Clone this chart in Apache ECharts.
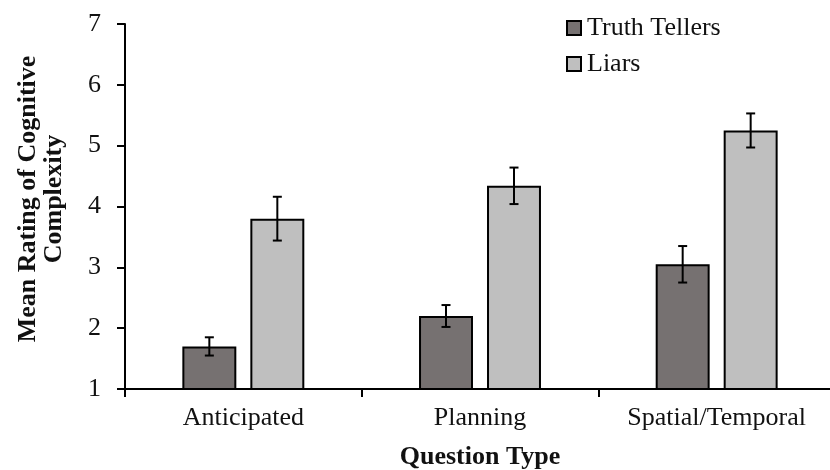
<!DOCTYPE html>
<html>
<head>
<meta charset="utf-8">
<script src="https://cdn.jsdelivr.net/npm/echarts@6/dist/echarts.min.js"></script>
<style>html,body{margin:0;padding:0;background:#fff;}#c{width:830px;height:470px;}</style>
</head>
<body>
<div id="c"></div>
<script>
var categories = ['Anticipated', 'Planning', 'Spatial/Temporal'];
var seriesNames = ['Truth Tellers', 'Liars'];
var truthMeans = [1.7, 2.2, 3.05];
var truthErr = [0.15, 0.18, 0.3];
var liarMeans = [3.8, 4.34, 5.25];
var liarErr = [0.36, 0.3, 0.28];
var yTicks = [1, 2, 3, 4, 5, 6, 7];

var FONT = 'Liberation Serif';
var BAR_FRAC = 0.228, GAP_FRAC = 0.26;

function errSeries(means, errs, side) {
  var data = means.map(function (m, i) { return [i, m, m - errs[i], m + errs[i]]; });
  return {
    type: 'custom',
    z: 10,
    silent: true,
    data: data,
    encode: { x: 0, y: [2, 3] },
    renderItem: function (params, api) {
      var idx = api.value(0);
      var band = api.size([1, 0])[0];
      var off = band * (BAR_FRAC + BAR_FRAC * GAP_FRAC) / 2 * side;
      var lo = api.coord([idx, api.value(2)]);
      var hi = api.coord([idx, api.value(3)]);
      var x = lo[0] + off;
      var cap = 4.5;
      var st = { stroke: '#000', lineWidth: 2 };
      return {
        type: 'group',
        children: [
          { type: 'line', shape: { x1: x, y1: lo[1], x2: x, y2: hi[1] }, style: st },
          { type: 'line', shape: { x1: x - cap, y1: lo[1], x2: x + cap, y2: lo[1] }, style: st },
          { type: 'line', shape: { x1: x - cap, y1: hi[1], x2: x + cap, y2: hi[1] }, style: st }
        ]
      };
    }
  };
}

var chart = echarts.init(document.getElementById('c'));
chart.setOption({
  animation: false,
  backgroundColor: '#fff',
  grid: { left: 125, right: -5, top: 24, bottom: 81, containLabel: false, outerBoundsMode: 'none' },
  legend: {
    orient: 'vertical',
    left: 566,
    top: 15,
    padding: 0,
    itemWidth: 14,
    itemHeight: 14,
    itemGap: 10,
    icon: 'rect',
    data: seriesNames,
    textStyle: { fontFamily: FONT, fontSize: 26, color: '#111', lineHeight: 26, padding: [0, 0, 0, 1] }
  },
  graphic: [{
    type: 'text',
    x: 41,
    y: 199,
    rotation: Math.PI / 2,
    style: {
      text: 'Mean Rating of Cognitive\nComplexity',
      font: 'bold 26px "Liberation Serif"',
      fill: '#111',
      align: 'center',
      verticalAlign: 'middle',
      lineHeight: 26
    }
  }],
  xAxis: {
    type: 'category',
    data: categories,
    name: 'Question Type',
    nameLocation: 'middle',
    nameGap: 55,
    nameTextStyle: { fontFamily: FONT, fontSize: 26, fontWeight: 'bold', color: '#111' },
    axisLine: { lineStyle: { color: '#000', width: 2 } },
    axisTick: { show: true, length: 8, lineStyle: { color: '#000', width: 2 } },
    axisLabel: { fontFamily: FONT, fontSize: 26, color: '#111', margin: 16 },
    splitLine: { show: false }
  },
  yAxis: {
    type: 'value',
    min: 1,
    max: 7,
    interval: 1,
    axisLine: { show: true, lineStyle: { color: '#000', width: 2 } },
    axisTick: { show: true, length: 8, lineStyle: { color: '#000', width: 2 } },
    axisLabel: { fontFamily: FONT, fontSize: 26, color: '#111', margin: 24,
      formatter: function (v) { return yTicks.indexOf(v) >= 0 ? String(v) : ''; } },
    splitLine: { show: false }
  },
  series: [
    {
      name: seriesNames[0],
      type: 'bar',
      data: truthMeans,
      barWidth: (BAR_FRAC * 100) + '%',
      barGap: (GAP_FRAC * 100) + '%',
      itemStyle: { color: '#767171', borderColor: '#000', borderWidth: 2 }
    },
    {
      name: seriesNames[1],
      type: 'bar',
      data: liarMeans,
      barWidth: (BAR_FRAC * 100) + '%',
      barGap: (GAP_FRAC * 100) + '%',
      itemStyle: { color: '#bfbfbf', borderColor: '#000', borderWidth: 2 }
    },
    errSeries(truthMeans, truthErr, -1),
    errSeries(liarMeans, liarErr, 1)
  ]
});
</script>
</body>
</html>
